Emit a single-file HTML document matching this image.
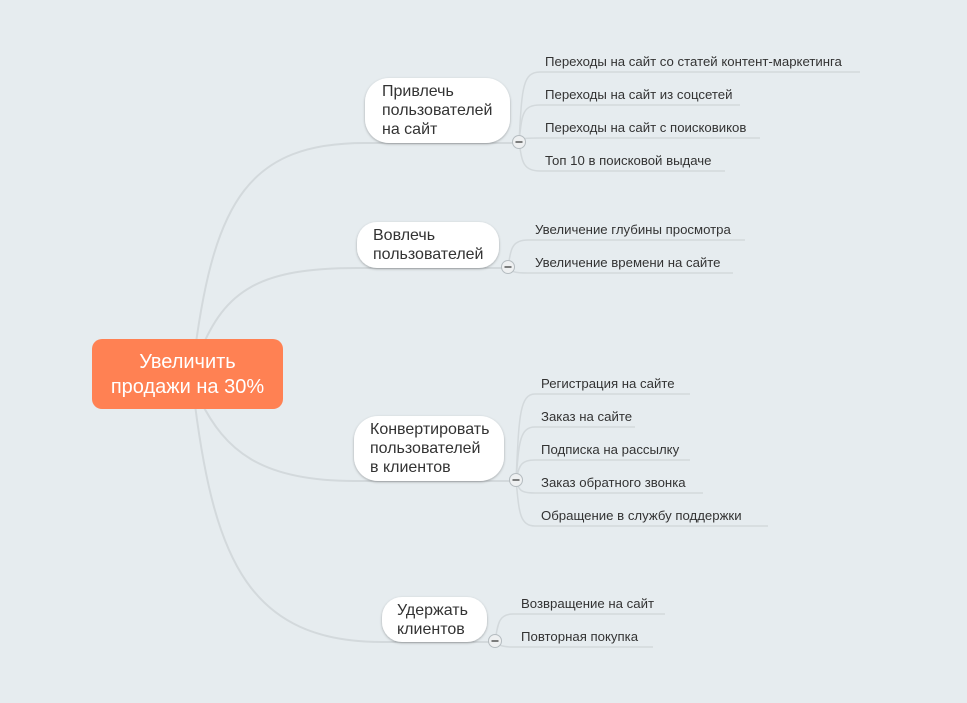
<!DOCTYPE html>
<html><head><meta charset="utf-8"><style>
body{margin:0;background:#e6ecef;}
svg{display:block;font-family:"Liberation Sans",sans-serif;}
.l{fill:#333;font-size:13.2px;}
.b{fill:#333;font-size:16px;}
</style></head><body>
<svg width="967" height="703" viewBox="0 0 967 703">
<defs><filter id="s" x="-20%" y="-20%" width="140%" height="150%"><feDropShadow dx="0" dy="1" stdDeviation="1.2" flood-color="#000" flood-opacity="0.3"/></filter></defs>
<g fill="none" stroke="#d3d9dc" stroke-width="2">
<path d="M195 350 C215 200 250 143 365 143 L519 143"/>
<path d="M200 352 C225 290 260 268 357 268 L508 268"/>
<path d="M200 400 C225 450 260 481 354 481 L516 481"/>
<path d="M195 405 C215 560 250 642 382 642 L495 642"/>
<g stroke-width="1.5">
<path d="M519 142 C522 90 522 72 540 72 L860 72"/>
<path d="M519 142 C522 115 522 105 540 105 L740 105"/>
<path d="M519 142 C522 138 525 138 540 138 L760 138"/>
<path d="M519 142 C522 160 522 171 540 171 L725 171"/>
<path d="M508 267 C511 250 511 240 528 240 L745 240"/>
<path d="M508 267 C511 272 515 273 528 273 L733 273"/>
<path d="M516 480 C519 420 519 394 535 394 L690 394"/>
<path d="M516 480 C519 445 519 427 535 427 L635 427"/>
<path d="M516 480 C519 468 519 460 535 460 L690 460"/>
<path d="M516 480 C519 490 520 493 535 493 L703 493"/>
<path d="M516 480 C519 510 519 526 535 526 L768 526"/>
<path d="M495 641 C498 625 498 614 513 614 L665 614"/>
<path d="M495 641 C498 645 502 647 513 647 L653 647"/>
</g></g>
<rect x="92" y="339" width="191" height="70" rx="10" fill="#ff8153"/>
<text x="187.5" y="368" text-anchor="middle" fill="#fff" font-size="20">Увеличить</text>
<text x="187.5" y="393" text-anchor="middle" fill="#fff" font-size="20">продажи на 30%</text>
<g fill="#fff" filter="url(#s)">
<rect x="365" y="78" width="145" height="65" rx="24"/>
<rect x="357" y="222" width="142" height="46" rx="20"/>
<rect x="354" y="416" width="150" height="65" rx="24"/>
<rect x="382" y="597" width="105" height="45" rx="20"/>
</g>
<text class="b" x="382" y="96">Привлечь</text>
<text class="b" x="382" y="115">пользователей</text>
<text class="b" x="382" y="134">на сайт</text>
<text class="b" x="373" y="240">Вовлечь</text>
<text class="b" x="373" y="259">пользователей</text>
<text class="b" x="370" y="434">Конвертировать</text>
<text class="b" x="370" y="453">пользователей</text>
<text class="b" x="370" y="472">в клиентов</text>
<text class="b" x="397" y="615">Удержать</text>
<text class="b" x="397" y="634">клиентов</text>
<g fill="#eef0f1" stroke="#b5bcc0" stroke-width="1">
<circle cx="519" cy="142" r="6.5"/><circle cx="508" cy="267" r="6.5"/><circle cx="516" cy="480" r="6.5"/><circle cx="495" cy="641" r="6.5"/>
</g>
<g stroke="#555" stroke-width="1.5">
<path d="M515.5 142h7"/><path d="M504.5 267h7"/><path d="M512.5 480h7"/><path d="M491.5 641h7"/>
</g>
<text class="l" x="545" y="66">Переходы на сайт со статей контент-маркетинга</text>
<text class="l" x="545" y="99">Переходы на сайт из соцсетей</text>
<text class="l" x="545" y="132">Переходы на сайт с поисковиков</text>
<text class="l" x="545" y="165">Топ 10 в поисковой выдаче</text>
<text class="l" x="535" y="234">Увеличение глубины просмотра</text>
<text class="l" x="535" y="267">Увеличение времени на сайте</text>
<text class="l" x="541" y="388">Регистрация на сайте</text>
<text class="l" x="541" y="421">Заказ на сайте</text>
<text class="l" x="541" y="454">Подписка на рассылку</text>
<text class="l" x="541" y="487">Заказ обратного звонка</text>
<text class="l" x="541" y="520">Обращение в службу поддержки</text>
<text class="l" x="521" y="608">Возвращение на сайт</text>
<text class="l" x="521" y="641">Повторная покупка</text>
</svg>
</body></html>
